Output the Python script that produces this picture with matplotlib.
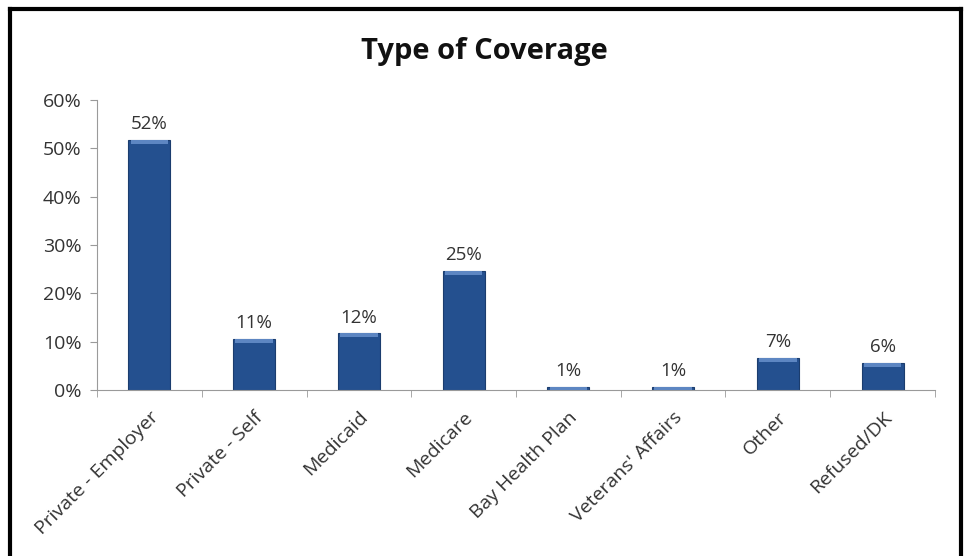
import matplotlib
matplotlib.use("Agg")
import matplotlib.pyplot as plt
from matplotlib.lines import Line2D
import matplotlib.transforms as mtransforms
import numpy as np

categories = ["Private - Employer", "Private - Self", "Medicaid", "Medicare",
              "Bay Health Plan", "Veterans' Affairs", "Other", "Refused/DK"]
shares = [51.8, 10.6, 11.7, 24.6, 0.6, 0.6, 6.6, 5.6]
yticks = [0, 10, 20, 30, 40, 50, 60]

plt.rcParams['font.family'] = ['Open Sans', 'DejaVu Sans']

fig = plt.figure(figsize=(9.68, 5.56), dpi=100)
ax = fig.add_axes([97 / 968, 1 - 390 / 556, (935 - 97) / 968, 290 / 556])

x = np.arange(len(categories))
bar_color = "#24508f"
ax.bar(x, shares, width=0.4, color=bar_color, edgecolor="#1b3d6e", linewidth=0.8, zorder=2)
# lighter cap at the top of each bar
cap = [min(v, 0.8) for v in shares]
ax.bar(x, cap, bottom=[v - c for v, c in zip(shares, cap)], width=0.36,
       color="#5d86c2", linewidth=0, zorder=3)

for xi, v in zip(x, shares):
    ax.annotate(f"{round(v)}%", (xi, v), xytext=(0, 5), textcoords="offset points",
                ha="center", va="bottom", fontsize=13.5, color="#333333")

ax.set_xlim(-0.5, len(categories) - 0.5)
ax.set_ylim(0, 60)
ax.set_yticks(yticks)
ax.set_yticklabels([f"{t}%" for t in yticks], fontsize=14, color="#333333")
ax.set_xticks(x)
ax.set_xticklabels(categories, rotation=45, ha="right", va="top",
                   rotation_mode="anchor", fontsize=14, color="#333333")
offset = mtransforms.ScaledTranslation(21 / 72, 0 / 72, fig.dpi_scale_trans)
for lbl in ax.get_xticklabels():
    lbl.set_transform(lbl.get_transform() + offset)
ax.tick_params(axis="x", length=0, pad=13)
ax.tick_params(axis="y", length=5, color="#9a9a9a", pad=6)

# category boundary ticks on the x axis
ax.set_xticks(np.arange(len(categories) + 1) - 0.5, minor=True)
ax.tick_params(axis="x", which="minor", length=5, color="#9a9a9a")

for side in ["top", "right"]:
    ax.spines[side].set_visible(False)
ax.spines["left"].set_color("#9a9a9a")
ax.spines["bottom"].set_color("#9a9a9a")

fig.text(0.5, 1 - 52 / 556, "Type of Coverage", ha="center", va="center",
         fontsize=21, fontweight="bold", color="#111111")

# outer frame (no bottom edge in the reference)
fig.add_artist(Line2D([10 / 968, 10 / 968], [0, 1 - 9 / 556], color="black", lw=3))
fig.add_artist(Line2D([10 / 968, 961 / 968], [1 - 9 / 556, 1 - 9 / 556], color="black", lw=3))
fig.add_artist(Line2D([961 / 968, 961 / 968], [0, 1 - 9 / 556], color="black", lw=3))

fig.savefig("out.png", dpi=100)
